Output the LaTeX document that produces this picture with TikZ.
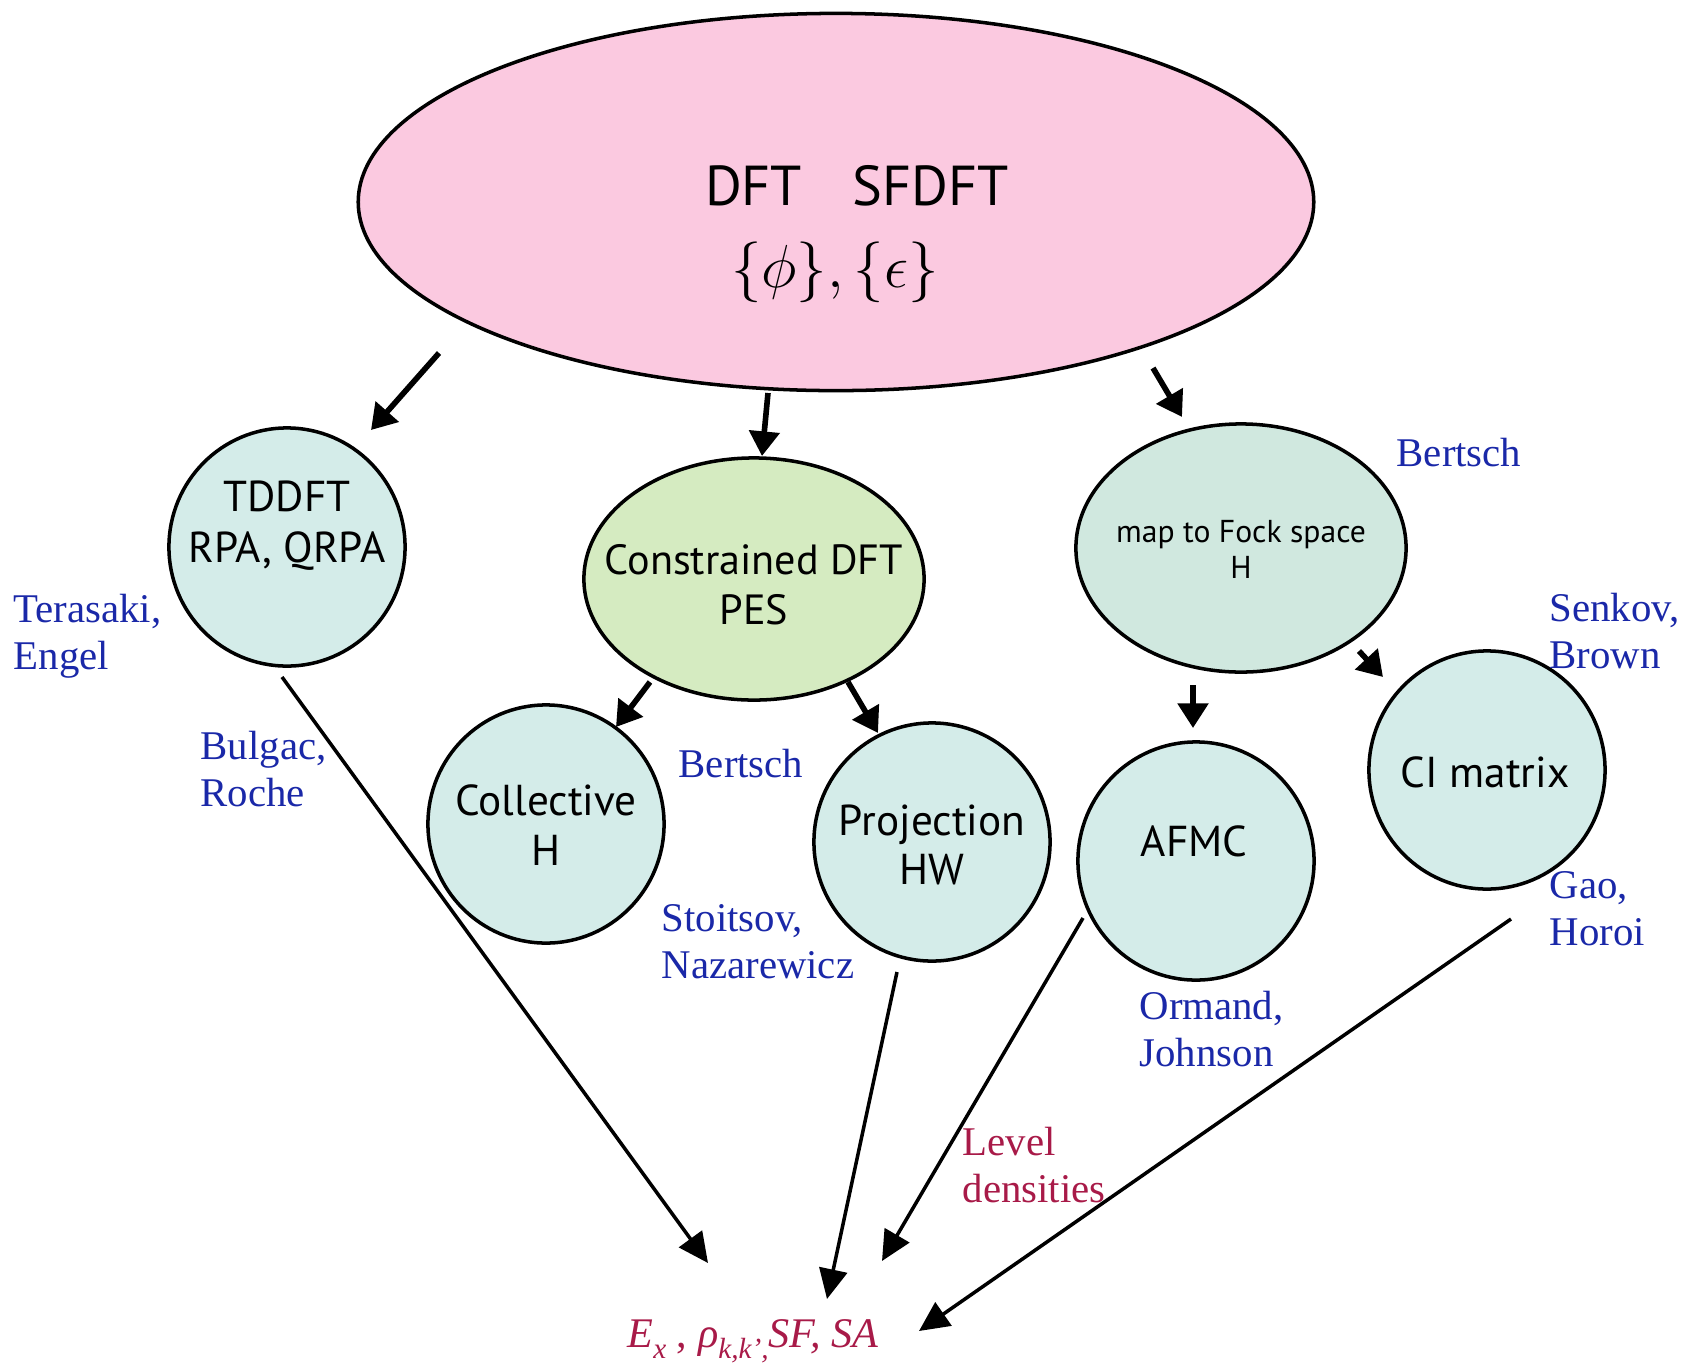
\documentclass[tikz,border=0pt]{standalone}
\usepackage{fontspec}
\setmainfont{Liberation Serif}
\newfontfamily\gill{PT Sans}
\usetikzlibrary{arrows.meta,shapes.geometric}
\definecolor{pinkf}{HTML}{FBC9E0}
\definecolor{greenf}{HTML}{D5EBC1}
\definecolor{cyanf}{HTML}{D4ECE9}
\definecolor{fockf}{HTML}{D0E8DF}
\definecolor{authblue}{HTML}{1A28A8}
\definecolor{crim}{HTML}{A81A48}
\newcommand{\lowsub}[1]{\raisebox{-0.6ex}{\fontsize{8.3}{8.3}\selectfont\textit{#1}}}
\tikzset{
  bub/.style={ellipse, draw=black, line width=1pt, inner sep=0pt},
  circ/.style={bub, fill=cyanf, minimum width=2.36cm, minimum height=2.38cm},
  intext/.style={font=\gill\fontsize{12.3}{14.5}\selectfont, align=center, inner sep=0pt, text=black},
  auth/.style={font=\fontsize{11.6}{13.1}\selectfont, text=authblue, align=left, anchor=base west, inner sep=0pt},
  thick arrow/.style={line width=1.6pt, -{Triangle[length=7pt,width=8.5pt]}},
  thin arrow/.style={line width=1pt, -{Triangle[length=8.5pt,width=8pt]}},
}
\begin{document}
\begin{tikzpicture}[x=0.01cm,y=-0.01cm]
\useasboundingbox (0,0) rectangle (1690,1372);

% shapes
\node[bub, fill=pinkf, minimum width=9.55cm, minimum height=3.77cm] (dft) at (836,202) {};
\node[circ] (tddft) at (287,547) {};
\node[bub, fill=greenf, minimum width=3.40cm, minimum height=2.42cm] (cdft) at (754,579) {};
\node[bub, fill=fockf, minimum width=3.30cm, minimum height=2.48cm] (fock) at (1241,548) {};
\node[circ] (coll) at (546,824) {};
\node[circ] (proj) at (932,842) {};
\node[circ] (afmc) at (1196,861) {};
\node[circ] (ci) at (1487,770) {};

% texts in shapes
\node[intext, font=\gill\fontsize{16}{18}\selectfont] (dftt) at (857,186) {DFT\hspace{0.9em}SFDFT};
\node[inner sep=0pt, font=\fontsize{16.2}{19}\selectfont] (dftm) at (835,272) {$\{\phi\},\{\epsilon\}$};
\node[intext] (tddftt) at (287,526) {TDDFT\\RPA, QRPA};
\node[intext, font=\gill\fontsize{12}{14.2}\selectfont] (cdftt) at (754,585) {Constrained DFT\\PES};
\node[intext, font=\gill\fontsize{9}{10.2}\selectfont] (fockt) at (1241,549) {map to Fock space\\H};
\node[intext, font=\gill\fontsize{12.3}{14.2}\selectfont] (collt) at (546,825) {Collective\\H};
\node[intext, font=\gill\fontsize{12.3}{13.7}\selectfont] (projt) at (932,845) {Projection\\HW};
\node[intext] (afmct) at (1194,841) {AFMC};
\node[intext] (cit) at (1485,772) {CI matrix};

% result
\node[inner sep=0pt, anchor=base west, text=crim, font=\fontsize{12}{15}\selectfont] (res) at (627,1347)
  {\textit{E}\lowsub{x} , \textit{ρ}\lowsub{k,k',}\textit{SF, SA}};

% author labels
\node[auth] (a1) at (13,669) {Terasaki,\\Engel};
\node[auth] (a2) at (200,806) {Bulgac,\\Roche};
\node[auth] (a3) at (678,777) {Bertsch};
\node[auth] (a4) at (661,978) {Stoitsov,\\Nazarewicz};
\node[auth] (a5) at (1396,466) {Bertsch};
\node[auth] (a6) at (1549,668) {Senkov,\\Brown};
\node[auth] (a7) at (1549,945) {Gao,\\Horoi};
\node[auth] (a8) at (1139,1066) {Ormand,\\Johnson};
\node[auth, text=crim] (lev) at (962,1202) {Level\\densities};

% arrow end points
\coordinate (s1) at (439,353); \coordinate (e1) at (371,430);
\coordinate (s2) at (768,393); \coordinate (e2) at (762,456);
\coordinate (s3) at (1153,368); \coordinate (e3) at (1182,417);
\coordinate (s4) at (650,682); \coordinate (e4) at (616,727);
\coordinate (s5) at (848,682); \coordinate (e5) at (878,733);
\coordinate (s6) at (1193,685); \coordinate (e6) at (1193,728);
\coordinate (s7) at (1359,651); \coordinate (e7) at (1383,677);

\draw[thick arrow] (s1) -- (e1);
\draw[thick arrow] (s2) -- (e2);
\draw[thick arrow] (s3) -- (e3);
\draw[thick arrow] (s4) -- (e4);
\draw[thick arrow] (s5) -- (e5);
\draw[thick arrow] (s6) -- (e6);
\draw[thick arrow] (s7) -- (e7);

\coordinate (ta) at (282,677); \coordinate (ra) at (708,1263);
\coordinate (tb) at (897,972); \coordinate (rb) at (827,1299);
\coordinate (tc) at (1083,918); \coordinate (rc) at (882,1261);
\coordinate (td) at (1511,919); \coordinate (rd) at (919,1331);
\draw[thin arrow] (ta) -- (ra);
\draw[thin arrow] (tb) -- (rb);
\draw[thin arrow] (tc) -- (rc);
\draw[thin arrow] (td) -- (rd);
\end{tikzpicture}
\end{document}
